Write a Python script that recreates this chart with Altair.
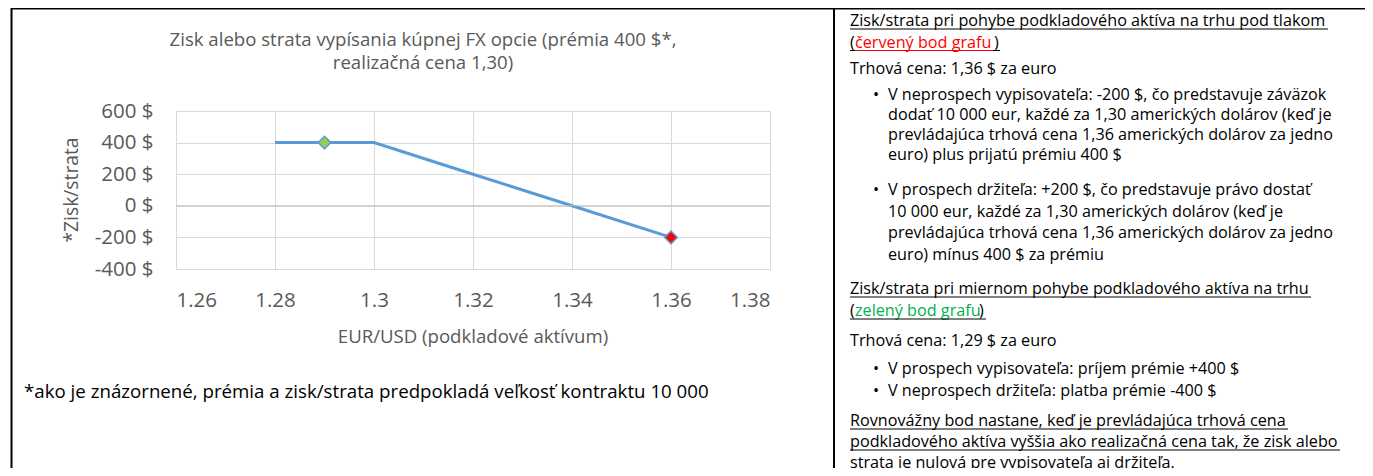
import altair as alt
import pandas as pd

# ---------------- data ----------------
x_vals = [1.28, 1.29, 1.30, 1.32, 1.34, 1.36]
pl_vals = [400, 400, 400, 200, 0, -200]
marker_x = [1.29, 1.36]
marker_y = [400, -200]
marker_kind = ["zelený bod", "červený bod"]
x_ticks = [1.26, 1.28, 1.30, 1.32, 1.34, 1.36, 1.38]
y_ticks = [-400, -200, 0, 200, 400, 600]

title_lines = ["Zisk alebo strata vypísania kúpnej FX opcie (prémia 400 $*,",
               "realizačná cena 1,30)"]
x_title = "EUR/USD (podkladové aktívum)"
y_title = "*Zisk/strata"
footnote = "*ako je znázornené, prémia a zisk/strata predpokladá veľkosť kontraktu 10 000"

hdr1 = "Zisk/strata pri pohybe podkladového aktíva na trhu pod tlakom"
hdr1_col = "červený bod grafu"
price1 = "Trhová cena: 1,36 $ za euro"
bullet1 = ["V neprospech vypisovateľa: -200 $, čo predstavuje záväzok",
           "dodať 10 000 eur, každé za 1,30 amerických dolárov (keď je",
           "prevládajúca trhová cena 1,36 amerických dolárov za jedno",
           "euro) plus prijatú prémiu 400 $"]
bullet2 = ["V prospech držiteľa: +200 $, čo predstavuje právo dostať",
           "10 000 eur, každé za 1,30 amerických dolárov (keď je",
           "prevládajúca trhová cena 1,36 amerických dolárov za jedno",
           "euro) mínus 400 $ za prémiu"]
hdr2 = "Zisk/strata pri miernom pohybe podkladového aktíva na trhu"
hdr2_col = "zelený bod grafu"
price2 = "Trhová cena: 1,29 $ za euro"
bullet3 = ["V prospech vypisovateľa: príjem prémie +400 $"]
bullet4 = ["V neprospech držiteľa: platba prémie -400 $"]
closing = ["Rovnovážny bod nastane, keď je prevládajúca trhová cena",
           "podkladového aktíva vyššia ako realizačná cena tak, že zisk alebo",
           "strata je nulová pre vypisovateľa aj držiteľa."]

# ---------------- layout / style ----------------
F = "Open Sans"
GRAY = "#595959"
OX, OY = 176, 111          # page position of the plot area's top-left corner
W, H = 594, 158
dummy = pd.DataFrame({"a": [0]})


def txt(s, X, Y, size, color="black", align="left", baseline="alphabetic", angle=0):
    return alt.Chart(dummy).mark_text(
        text=s, align=align, baseline=baseline, fontSize=size, color=color,
        font=F, angle=angle
    ).encode(x=alt.value(X - OX), y=alt.value(Y - OY))


def hline(X1, X2, Y, color="black", w=1.0):
    return alt.Chart(dummy).mark_rule(color=color, strokeWidth=w).encode(
        x=alt.value(X1 - OX), x2=alt.value(X2 - OX), y=alt.value(Y - OY))


def vline(X, Y1, Y2, color="black", w=2.0):
    return alt.Chart(dummy).mark_rule(color=color, strokeWidth=w).encode(
        x=alt.value(X - OX), y=alt.value(Y1 - OY), y2=alt.value(Y2 - OY))


line_df = pd.DataFrame({"x": x_vals, "y": pl_vals})
mk_df = pd.DataFrame({"x": marker_x, "y": marker_y, "kind": marker_kind})

xaxis = alt.Axis(values=x_ticks, format=".2~f", grid=True, gridColor="#d9d9d9",
                 gridWidth=1, domain=False, ticks=False, tickSize=0,
                 labelFont=F, labelFontSize=20.5, labelColor=GRAY,
                 labelOverlap=False, labelBaseline="alphabetic",
                 labelPadding=37, title=None)
yaxis = alt.Axis(values=y_ticks, labelExpr="datum.value + ' $'", grid=True,
                 gridColor="#d9d9d9", gridWidth=1, domain=False, ticks=False,
                 tickSize=0, labelFont=F, labelFontSize=20.5, labelColor=GRAY,
                 labelOverlap=False, labelPadding=23, labelBaseline="middle",
                 title=None)
xscale = alt.Scale(domain=[x_ticks[0], x_ticks[-1]], nice=False, zero=False)
yscale = alt.Scale(domain=[y_ticks[0], y_ticks[-1]], nice=False, zero=False)

line = alt.Chart(line_df).mark_line(color="#5b9bd5", strokeWidth=3).encode(
    x=alt.X("x:Q", scale=xscale, axis=xaxis), y=alt.Y("y:Q", scale=yscale, axis=yaxis))
zero = alt.Chart(dummy).mark_rule(color="#bfbfbf", strokeWidth=1).encode(
    y=alt.Y(datum=0, scale=yscale, axis=yaxis))
pts = alt.Chart(mk_df).mark_point(shape="diamond", filled=True, size=160, opacity=1,
                                  stroke="#5b9bd5", strokeWidth=1.5).encode(
    x=alt.X("x:Q", scale=xscale, axis=xaxis), y=alt.Y("y:Q", scale=yscale, axis=yaxis),
    fill=alt.Fill("kind:N", scale=alt.Scale(domain=marker_kind, range=["#92d050", "#ff0000"]),
                  legend=None))

layers = [line, zero, pts]

# chart texts
layers += [txt(title_lines[0], 423, 46, 18.6, GRAY, "center"),
           txt(title_lines[1], 423, 69, 18.6, GRAY, "center"),
           txt(x_title, 473, 343, 18.6, GRAY, "center"),
           txt(y_title, 72, 190, 19.3, GRAY, "center", "middle", 270),
           txt(footnote, 24, 398, 18.7)]

# table borders
layers += [hline(11, 1367, 8.5, w=2), vline(11.5, 8, 476), vline(834, 8, 476),
           vline(1367, 8, 476)]

# right panel
RX, BX, TX, FS = 850, 876, 888, 16.2
layers += [txt(hdr1, RX, 26, FS), hline(RX, 1328, 29),
           txt("(", RX, 48, FS), txt(hdr1_col, 855, 48, FS, "#ff0000"),
           txt(")", 994, 48, FS), hline(RX, 1000, 50.5), hline(855, 993, 50.5, "#ff0000"),
           txt(price1, RX, 74, FS)]
for i, s in enumerate(bullet1):
    layers.append(txt(s, TX, 100 + 20 * i, FS))
layers.append(txt("•", BX, 100, FS, align="center"))
for i, s in enumerate(bullet2):
    layers.append(txt(s, TX, 195 + 21.5 * i, FS))
layers.append(txt("•", BX, 195, FS, align="center"))
layers += [txt(hdr2, RX, 294, FS), hline(RX, 1311, 297),
           txt("(", RX, 316, FS), txt(hdr2_col, 855, 316, FS, "#00b050"),
           txt(")", 979, 316, FS), hline(RX, 986, 319),
           txt(price2, RX, 346, FS),
           txt(bullet3[0], TX, 374, FS), txt("•", BX, 374, FS, align="center"),
           txt(bullet4[0], TX, 396, FS), txt("•", BX, 396, FS, align="center")]
ends = [1288, 1340, 1179]
for i, s in enumerate(closing):
    layers += [txt(s, RX, 426 + 21 * i, FS), hline(RX, ends[i], 429 + 21 * i)]

chart = alt.layer(*layers).properties(
    width=W, height=H,
    padding={"left": OX - 8, "top": OY - 8, "right": 1373 - 8 - OX - W, "bottom": 476 - 8 - OY - H},
    autosize=alt.AutoSizeParams(type="none"),
).configure_view(stroke="transparent").configure_axis(
    labelOverlap=False, labelFlush=False
).configure(background="white")

chart.save("out.html", embed_options={"renderer": "svg", "actions": False})
